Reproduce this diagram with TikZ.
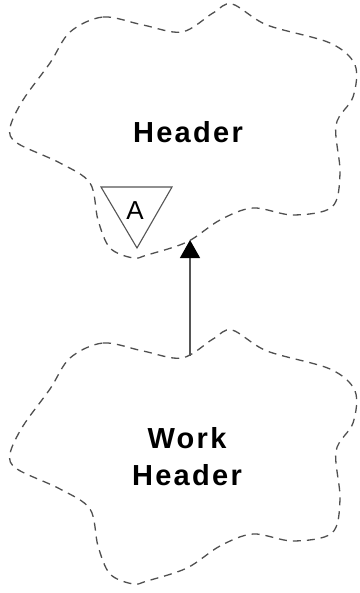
\documentclass[tikz,border=0pt]{standalone}
\usepackage{fontspec}
\newfontfamily\lsans[LetterSpace=8]{Liberation Sans}
\newfontfamily\lsansplain{Liberation Sans}
\usetikzlibrary{arrows.meta}
\definecolor{cloudgrey}{HTML}{505050}
\definecolor{linegrey}{HTML}{555555}
\tikzset{
  cloudline/.style={draw=cloudgrey, line width=1.3pt, dash pattern=on 8pt off 6pt},
  label/.style={font=\lsans\bfseries\fontsize{29}{37}\selectfont, inner sep=0pt, align=center},
  abstract/.style={draw=linegrey, line width=1.1pt, fill=white},
}
\newcommand{\cloudpath}{plot[smooth cycle, tension=0.55] coordinates {
 (70,32) (103,17) (143,25) (182,32) (213,13) (232,4) (267,25) (330,43) (355,65) (353,97)
 (336,125) (340,173) (332,207) (293,215) (253,208) (220,220) (187,242) (147,255) (133,258)
 (110,248) (98,220) (90,183) (60,163) (17,143) (10,128) (23,100) (50,63)}}
\begin{document}
\begin{tikzpicture}[x=1pt,y=-1pt]
\useasboundingbox (0,0) rectangle (359,593);
\fill[white] (0,0) rectangle (359,593);
% clouds
\draw[cloudline] \cloudpath;
\begin{scope}[shift={(0,326)}]
\draw[cloudline] \cloudpath;
\end{scope}
% abstract marker
\draw[abstract] (101,187) -- (172,187) -- (137,248) -- cycle;
\node[font=\lsansplain\fontsize{26}{26}\selectfont, inner sep=0pt, anchor=base] (amark) at (135,220) {A};
% labels
\node[label, anchor=base] (header) at (188,143) {Header};
\node[label] (work) at (187,457) {Work\\Header};
% connector
\coordinate (wtop) at (190,356);
\coordinate (hbot) at (190,240);
\draw[draw=linegrey, line width=1.3pt, -{Triangle[length=18pt,width=20pt,black,fill=black]}] (wtop) -- (hbot);
\end{tikzpicture}
\end{document}
